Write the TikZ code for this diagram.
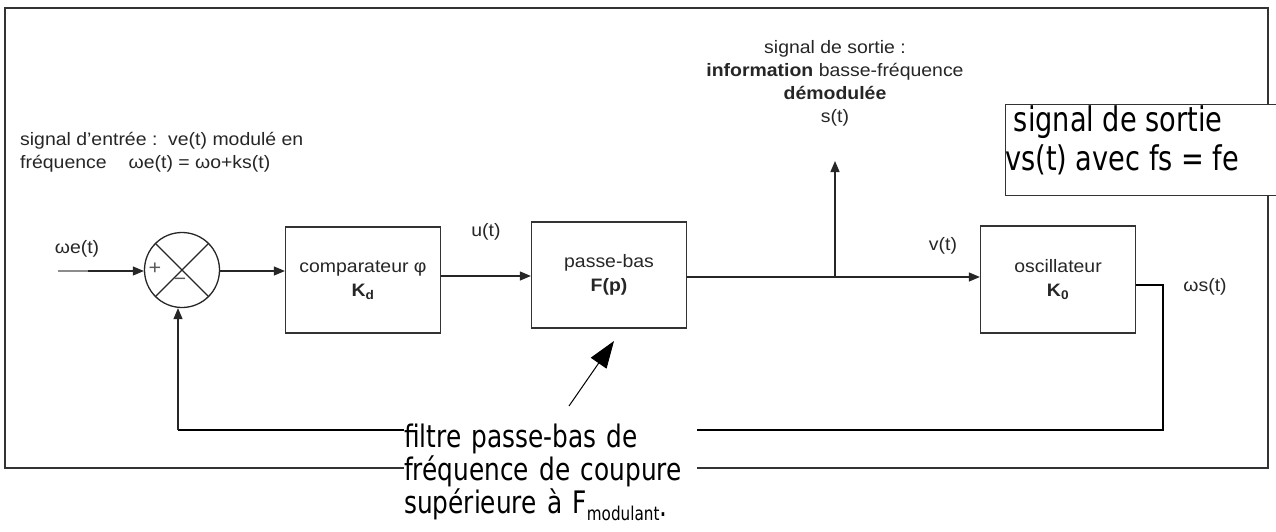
\documentclass[tikz,border=0pt]{standalone}
\usepackage{fontspec}
\setmainfont{Liberation Sans}
\newfontfamily\smallf[FakeStretch=1.08]{Liberation Sans}
\newfontfamily\bigf[FakeStretch=0.8]{DejaVu Sans}
\usetikzlibrary{arrows.meta}
\tikzset{
  lbl/.style={inner sep=0pt, text=black!85, font=\smallf\fontsize{18}{23}\selectfont},
  blk/.style={draw=black!80, line width=1.3pt, align=center, inner sep=0pt,
              text=black!85, font=\smallf\fontsize{18}{24}\selectfont},
  arr/.style={draw=black!85, line width=1.2pt, -{Triangle[length=11pt,width=9pt]}},
  thin/.style={draw=black!80, line width=1.2pt},
  thickln/.style={draw=black, line width=2.6pt},
  bigtxt/.style={inner sep=0pt, text=black, font=\bigf\fontsize{31}{33}\selectfont},
}
\begin{document}
\begin{tikzpicture}[x=1pt,y=-1pt]
\useasboundingbox (0,0) rectangle (1276,532);
\fill[white] (0,0) rectangle (1276,532);

% outer frame
\draw[thin] (404,468) -- (5,468) -- (5,8) -- (1268,8) -- (1268,468) -- (697,468);

% blocks
\node[draw=black!85, line width=1.3pt, circle, minimum size=75pt, inner sep=0pt] (sum) at (182,270) {};
\draw[black!85, line width=1.2pt] (sum.north west) -- (sum.south east) (sum.north east) -- (sum.south west);
\node[lbl, text=black!65, font=\smallf\fontsize{20}{20}\selectfont] (plus) at (155,269) {+};
\node[lbl, text=black!65, font=\smallf\fontsize{20}{20}\selectfont] (minus) at (180,282) {−};

\node[blk, minimum width=155pt, minimum height=106pt] (comp) at (363,280) {comparateur φ\\\textbf{K\textsubscript{d}}};
\node[blk, minimum width=155pt, minimum height=106pt] (pb) at (609,275) {passe-bas\\\textbf{F(p)}};
\node[blk, minimum width=155pt, minimum height=107pt] (osc) at (1058,279.5) {oscillateur\\\textbf{K\textsubscript{0}}};

% labels
\node[lbl, align=left, anchor=west] (entree) at (20,152.5) {signal d’entrée :\ \ ve(t) modulé en\\fréquence\hspace{22pt}ωe(t) = ωo+ks(t)};
\node[lbl] (we) at (77,249) {ωe(t)};
\node[lbl] (ut) at (486,232) {u(t)};
\node[lbl] (vt) at (943,246) {v(t)};
\node[lbl] (ws) at (1205,287) {ωs(t)};
\node[lbl, align=center] (stxt) at (835,83.5) {signal de sortie :\\\textbf{information} basse-fréquence\\\textbf{démodulée}\\s(t)};

% output text box
\node[draw=black!80, line width=1.2pt, fill=white, anchor=north west, minimum width=300pt, minimum height=91pt, inner sep=0pt] (obox) at (1005,104) {};
\node[inner sep=0pt, anchor=north west, align=left, font=\bigf\fontsize{34}{39}\selectfont] (otxt) at ([yshift=-1pt]obox.north west) {\ signal de sortie\\vs(t) avec fs = fe};

% connectors
\coordinate (in) at (58,271);
\draw[arr] (in) -- (in -| sum.west);
\draw[black!45, line width=1.2pt] (in) -- ++(30,0);
\draw[arr] ([yshift=-1pt]sum.east) -- ([yshift=-1pt]sum.east -| comp.west);
\draw[arr] ([yshift=4pt]comp.east) -- ([yshift=4pt]comp.east -| pb.west);
\draw[arr] ([yshift=-2pt]pb.east) -- ([yshift=-2pt]pb.east -| osc.west);
\coordinate (br) at (835,277);
\coordinate (stip) at (835,161);
\draw[arr] (br) -- (stip);

% feedback
\coordinate (fbR) at (1163,430);
\coordinate (fbL) at (178,430);
\draw[thickln] ([yshift=-5.5pt]osc.east) -| (fbR) -- (fbL);
\draw[arr] (fbL) -- (fbL |- sum.south);

% annotation
\coordinate (atail) at (569,406);
\coordinate (ahead) at (614,341);
\draw[black, line width=1pt, -{Triangle[length=27pt,width=19pt]}] (atail) -- (ahead);
\node[bigtxt, fill=white, anchor=north west, align=left, text width=293pt] (ftxt) at (404,423.5)
  {filtre passe-bas de\\fréquence de coupure\\supérieure à F\raisebox{-7pt}{\fontsize{19}{19}\selectfont modulant}\raisebox{-3pt}{.}};
\end{tikzpicture}
\end{document}
